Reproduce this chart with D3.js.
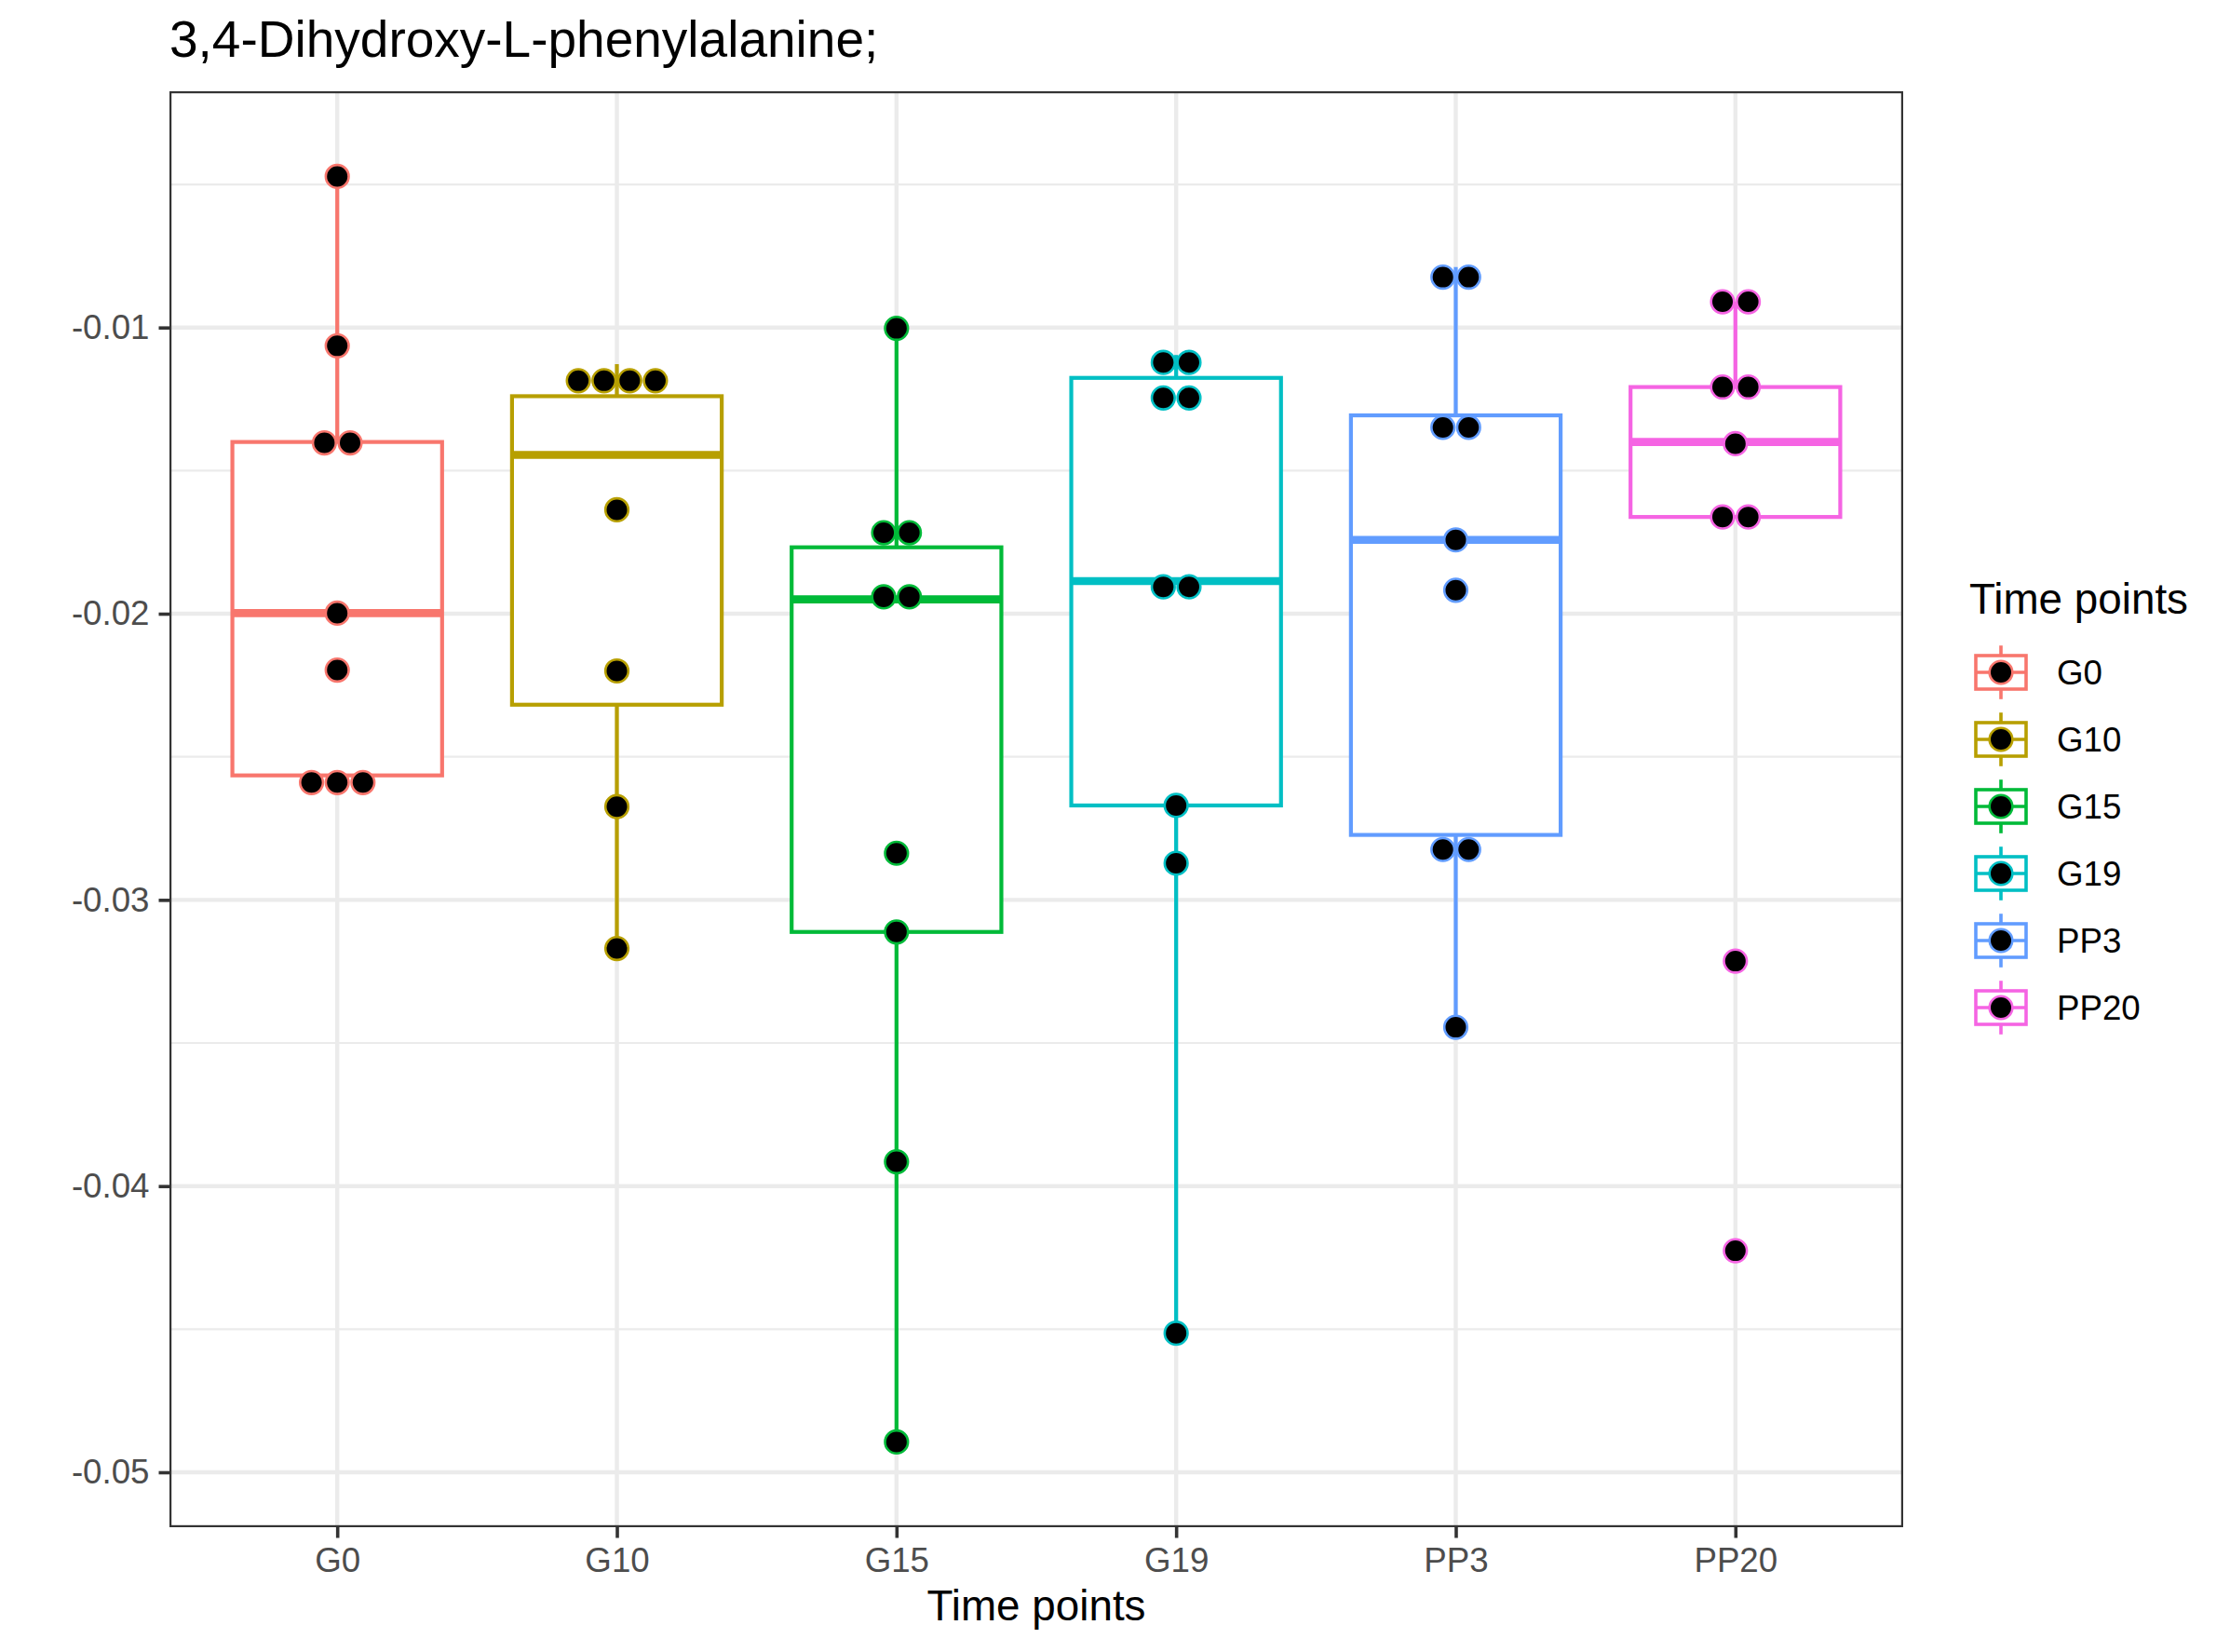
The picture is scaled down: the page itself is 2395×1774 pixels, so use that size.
<!DOCTYPE html>
<html>
<head>
<meta charset="utf-8">
<script src="https://cdn.jsdelivr.net/npm/d3@7"></script>
<style>
  html, body { margin: 0; padding: 0; background: #fff; }
  svg { display: block; }
  text { font-family: "Liberation Sans", Arial, Helvetica, sans-serif; }
</style>
</head>
<body>
<svg id="chart" width="2395" height="1774"></svg>
<script>
// ---------- DATA ----------
const categories = ["G0", "G10", "G15", "G19", "PP3", "PP20"];
const colors = ["#F8766D", "#B79F00", "#00BA38", "#00BFC4", "#619CFF", "#F564E3"];

// observations (dot positions) per time point
const valuesG0   = [-0.00472, -0.01064, -0.01403, -0.01403, -0.01998, -0.02197, -0.0259, -0.0259, -0.0259];
const valuesG10  = [-0.01186, -0.01186, -0.01186, -0.01186, -0.01637, -0.0220, -0.02674, -0.0317];
const valuesG15  = [-0.01003, -0.01717, -0.01717, -0.01941, -0.01941, -0.02837, -0.03112, -0.03915, -0.04894];
const valuesG19  = [-0.01122, -0.01122, -0.01246, -0.01246, -0.01906, -0.01906, -0.0267, -0.02872, -0.04514];
const valuesPP3  = [-0.00824, -0.00824, -0.01349, -0.01349, -0.01742, -0.01918, -0.02824, -0.02824, -0.03445];
const valuesPP20 = [-0.0091, -0.0091, -0.01208, -0.01208, -0.01406, -0.01662, -0.01662, -0.03214, -0.04226];

// box statistics per time point (same order as categories)
const whiskerLow  = [-0.0259, -0.0317, -0.04894, -0.04514, -0.03445, -0.01662];
const lowerHinge  = [-0.02565, -0.02318, -0.03112, -0.0267, -0.02773, -0.01662];
const medians     = [-0.01998, -0.01445, -0.0195, -0.01886, -0.01742, -0.0140];
const upperHinge  = [-0.0140, -0.0124, -0.01768, -0.01176, -0.01307, -0.01208];
const whiskerHigh = [-0.00472, -0.01128, -0.01003, -0.01096, -0.00789, -0.0091];

const yTicks = [-0.05, -0.04, -0.03, -0.02, -0.01];
const yMinorTicks = [-0.045, -0.035, -0.025, -0.015, -0.005];

const titleText = "3,4-Dihydroxy-L-phenylalanine;";
const xTitle = "Time points";
const legendTitle = "Time points";

const allValues = [valuesG0, valuesG10, valuesG15, valuesG19, valuesPP3, valuesPP20];

// ---------- LAYOUT ----------
const svg = d3.select("#chart");
const panel = { left: 182, top: 98, right: 2044, bottom: 1640 };
const majorW = 4.44, minorW = 2.22, boxW = 4.2, medW = 8.6;

const x = d3.scalePoint().domain(categories).range([panel.left, panel.right]).padding(0.6);
const step = x.step();
const y = d3.scaleLinear().domain([-0.05192, -0.001745]).range([panel.bottom, panel.top]);

// panel background
svg.append("rect").attr("x", panel.left).attr("y", panel.top)
  .attr("width", panel.right - panel.left).attr("height", panel.bottom - panel.top)
  .attr("fill", "#fff");

const grid = svg.append("g");
grid.selectAll(".minor").data(yMinorTicks).join("line")
  .attr("x1", panel.left).attr("x2", panel.right)
  .attr("y1", d => y(d)).attr("y2", d => y(d))
  .attr("stroke", "#EBEBEB").attr("stroke-width", minorW);
grid.selectAll(".major").data(yTicks).join("line")
  .attr("x1", panel.left).attr("x2", panel.right)
  .attr("y1", d => y(d)).attr("y2", d => y(d))
  .attr("stroke", "#EBEBEB").attr("stroke-width", majorW);
grid.selectAll(".vmajor").data(categories).join("line")
  .attr("x1", d => x(d)).attr("x2", d => x(d))
  .attr("y1", panel.top).attr("y2", panel.bottom)
  .attr("stroke", "#EBEBEB").attr("stroke-width", majorW);

// boxes
const halfBox = step * 0.75 / 2;
const boxes = svg.append("g");
categories.forEach((c, i) => {
  const g = boxes.append("g");
  const cx = x(c);
  g.append("line").attr("x1", cx).attr("x2", cx)
    .attr("y1", y(upperHinge[i])).attr("y2", y(whiskerHigh[i]))
    .attr("stroke", colors[i]).attr("stroke-width", boxW);
  g.append("line").attr("x1", cx).attr("x2", cx)
    .attr("y1", y(lowerHinge[i])).attr("y2", y(whiskerLow[i]))
    .attr("stroke", colors[i]).attr("stroke-width", boxW);
  g.append("rect").attr("x", cx - halfBox).attr("width", 2 * halfBox)
    .attr("y", y(upperHinge[i])).attr("height", y(lowerHinge[i]) - y(upperHinge[i]))
    .attr("fill", "#fff").attr("stroke", colors[i]).attr("stroke-width", boxW);
  g.append("line").attr("x1", cx - halfBox).attr("x2", cx + halfBox)
    .attr("y1", y(medians[i])).attr("y2", y(medians[i]))
    .attr("stroke", colors[i]).attr("stroke-width", medW);
});

// dots (stacked side by side when equal)
const dotR = 12.3, dotStroke = 2.6, dotStep = 27.6;
const dots = svg.append("g");
categories.forEach((c, i) => {
  const groups = d3.groups(allValues[i], v => v);
  groups.forEach(([v, arr]) => {
    const k = arr.length;
    for (let j = 0; j < k; j++) {
      dots.append("circle")
        .attr("cx", x(c) + (j - (k - 1) / 2) * dotStep)
        .attr("cy", y(v))
        .attr("r", dotR)
        .attr("fill", "#000")
        .attr("stroke", colors[i]).attr("stroke-width", dotStroke);
    }
  });
});

// panel border
svg.append("rect").attr("x", panel.left + 1.1).attr("y", panel.top + 1.1)
  .attr("width", panel.right - panel.left - 2.2).attr("height", panel.bottom - panel.top - 2.2)
  .attr("fill", "none").attr("stroke", "#333333").attr("stroke-width", 2.2);

// axes
const yAxis = d3.axisLeft(y).tickValues(yTicks).tickFormat(d => d.toFixed(2))
  .tickSize(11.5).tickPadding(10);
const ya = svg.append("g").attr("transform", `translate(${panel.left},0)`).call(yAxis);
ya.select(".domain").remove();
ya.selectAll(".tick line").attr("stroke", "#333333").attr("stroke-width", 3.6);
ya.selectAll(".tick text").attr("fill", "#4D4D4D").attr("font-size", 36.7)
  .attr("font-family", "\"Liberation Sans\", Arial, Helvetica, sans-serif");

const xAxis = d3.axisBottom(x).tickSize(11.5).tickPadding(10);
const xa = svg.append("g").attr("transform", `translate(0,${panel.bottom})`).call(xAxis);
xa.select(".domain").remove();
xa.selectAll(".tick line").attr("stroke", "#333333").attr("stroke-width", 3.6);
xa.selectAll(".tick text").attr("fill", "#4D4D4D").attr("font-size", 36.7)
  .attr("font-family", "\"Liberation Sans\", Arial, Helvetica, sans-serif");

// titles
svg.append("text").attr("x", panel.left).attr("y", 61)
  .attr("font-size", 55).attr("fill", "#000").text(titleText);
svg.append("text").attr("x", (panel.left + panel.right) / 2).attr("y", 1740)
  .attr("text-anchor", "middle").attr("font-size", 45.8).attr("fill", "#000").text(xTitle);

// legend
const leg = svg.append("g");
leg.append("text").attr("x", 2115).attr("y", 659).attr("font-size", 45.8)
  .attr("fill", "#000").text(legendTitle);
const keySize = 72, keyX = 2113, keyY0 = 686;
categories.forEach((c, i) => {
  const ky = keyY0 + i * keySize;
  const kcx = keyX + keySize / 2, kcy = ky + keySize / 2;
  const g = leg.append("g");
  const kw = 3.6;
  g.append("line").attr("x1", kcx).attr("x2", kcx).attr("y1", ky + keySize * 0.1).attr("y2", ky + keySize * 0.25)
    .attr("stroke", colors[i]).attr("stroke-width", kw);
  g.append("line").attr("x1", kcx).attr("x2", kcx).attr("y1", ky + keySize * 0.75).attr("y2", ky + keySize * 0.9)
    .attr("stroke", colors[i]).attr("stroke-width", kw);
  g.append("rect").attr("x", keyX + keySize * 0.125).attr("y", ky + keySize * 0.25)
    .attr("width", keySize * 0.75).attr("height", keySize * 0.5)
    .attr("fill", "#fff").attr("stroke", colors[i]).attr("stroke-width", kw);
  g.append("line").attr("x1", keyX + keySize * 0.125).attr("x2", keyX + keySize * 0.875)
    .attr("y1", kcy).attr("y2", kcy).attr("stroke", colors[i]).attr("stroke-width", kw);
  g.append("circle").attr("cx", kcx).attr("cy", kcy).attr("r", dotR)
    .attr("fill", "#000").attr("stroke", colors[i]).attr("stroke-width", dotStroke);
  g.append("text").attr("x", 2209).attr("y", kcy).attr("dy", "0.36em")
    .attr("font-size", 36.7).attr("fill", "#000").text(c);
});
</script>
</body>
</html>
